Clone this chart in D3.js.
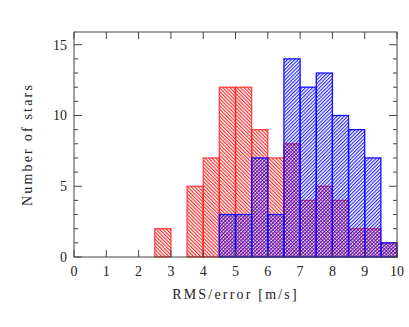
<!DOCTYPE html>
<html><head><meta charset="utf-8">
<script src="https://cdn.jsdelivr.net/npm/d3@7"></script>
<style>body{margin:0;background:#fff}svg{display:block}</style>
</head><body>
<script>
const binStarts = [2.5,3.0,3.5,4.0,4.5,5.0,5.5,6.0,6.5,7.0,7.5,8.0,8.5,9.0,9.5];
const redCounts  = [2,0,5,7,12,12,9,7,8,4,5,4,2,2,1];
const blueCounts = [0,0,0,0,3,3,7,3,14,12,13,10,9,7,1];
const binWidth = 0.5;
const xTicks = [0,1,2,3,4,5,6,7,8,9,10];
const yTicks = [0,5,10,15];

const W=409,H=327;
const m={l:74,r:12,t:32,b:70};
const svg=d3.select("body").append("svg").attr("width",W).attr("height",H);
const x=d3.scaleLinear().domain([0,10]).range([m.l,W-m.r]);
const y=d3.scaleLinear().domain([0,15.9]).range([H-m.b,m.t]);

const defs=svg.append("defs");
function hatch(id,color,angle){
  const p=defs.append("pattern").attr("id",id).attr("patternUnits","userSpaceOnUse")
    .attr("width",2.5).attr("height",2.5).attr("patternTransform",`rotate(${angle})`);
  p.append("line").attr("x1",0.6).attr("y1",0).attr("x2",0.6).attr("y2",2.5)
    .attr("stroke",color).attr("stroke-width",0.95);
}
hatch("hr","#ff0000",-45);
hatch("hb","#0000ff",45);

const g=svg.append("g");
function drawHist(counts,pat,color,op){
  const data=binStarts.map((s,i)=>({s,c:counts[i]})).filter(d=>d.c>0);
  g.append("g").selectAll("rect").data(data).join("rect")
    .attr("x",d=>x(d.s)).attr("width",d=>x(d.s+binWidth)-x(d.s))
    .attr("y",d=>y(d.c)).attr("height",d=>y(0)-y(d.c))
    .attr("fill",`url(#${pat})`).attr("stroke",color).attr("stroke-width",1.3).attr("stroke-opacity",op);
}
drawHist(redCounts,"hr","#ff2020",0.8);
drawHist(blueCounts,"hb","#1010ff",1);

// frame
const fc="#444";
svg.append("rect").attr("x",m.l).attr("y",m.t).attr("width",W-m.r-m.l).attr("height",H-m.b-m.t)
  .attr("fill","none").attr("stroke",fc).attr("stroke-width",1);
const ax=svg.append("g").attr("stroke",fc).attr("stroke-width",1);
xTicks.forEach(t=>{
  ax.append("line").attr("x1",x(t)).attr("x2",x(t)).attr("y1",y(0)).attr("y2",y(0)-7);
  ax.append("line").attr("x1",x(t)).attr("x2",x(t)).attr("y1",m.t).attr("y2",m.t+7);
});
d3.range(0,16).forEach(v=>{
  const len=v%5===0?8:4;
  ax.append("line").attr("x1",m.l).attr("x2",m.l+len).attr("y1",y(v)).attr("y2",y(v));
  ax.append("line").attr("x1",W-m.r).attr("x2",W-m.r-len).attr("y1",y(v)).attr("y2",y(v));
});
const font="Liberation Serif";
svg.append("g").selectAll("text").data(xTicks).join("text")
  .attr("x",d=>x(d)).attr("y",y(0)+19).attr("text-anchor","middle")
  .attr("font-family",font).attr("font-size",14).attr("fill","#222").text(d=>d);
svg.append("g").selectAll("text").data(yTicks).join("text")
  .attr("x",m.l-7).attr("y",d=>y(d)+5).attr("text-anchor","end")
  .attr("font-family",font).attr("font-size",14).attr("fill","#222").text(d=>d);
svg.append("text").attr("x",(x(0)+x(10))/2).attr("y",y(0)+42).attr("text-anchor","middle")
  .attr("font-family",font).attr("font-size",14).attr("letter-spacing",2.2).attr("fill","#222").text("RMS/error [m/s]");
svg.append("text").attr("transform",`translate(32,${(m.t+y(0))/2}) rotate(-90)`).attr("text-anchor","middle")
  .attr("font-family",font).attr("font-size",14).attr("letter-spacing",2.2).attr("fill","#222").text("Number of stars");
</script>
</body></html>
